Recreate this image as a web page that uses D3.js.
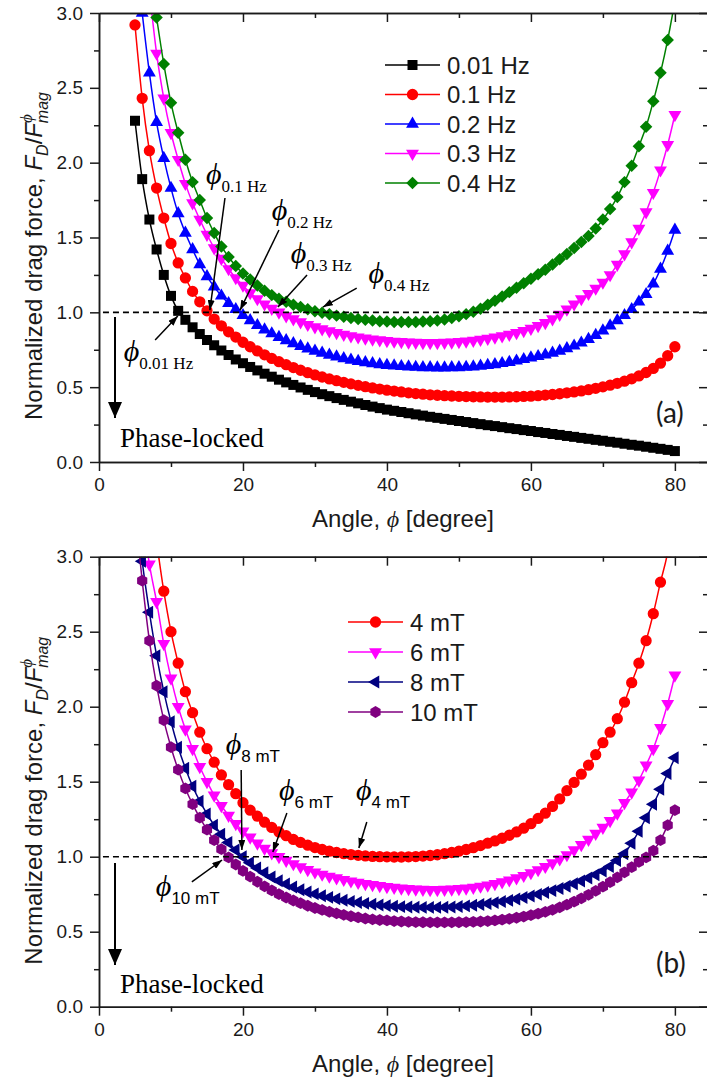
<!DOCTYPE html>
<html>
<head>
<meta charset="utf-8">
<script src="https://cdn.jsdelivr.net/npm/d3@7"></script>
<style>
  body { margin: 0; background: #fff; }
</style>
</head>
<body>
<div id="chart"></div>
<script>
// ---- panel (a): normalized drag force vs angle, different frequencies ----
const namesA = ["0.01 Hz", "0.1 Hz", "0.2 Hz", "0.3 Hz", "0.4 Hz"];
const startA = [5, 5, 6, 7, 8];   // first angle of each series [degree], then 1 degree steps
const hz001 = [2.28, 1.89, 1.62, 1.42, 1.25, 1.11, 1.01, 0.95, 0.90, 0.855, 0.815, 0.78, 0.745, 0.715, 0.685, 0.66,
  0.635, 0.612, 0.59, 0.57, 0.55, 0.532, 0.515, 0.498, 0.482, 0.467, 0.453, 0.44, 0.427, 0.415, 0.403, 0.392, 0.381,
  0.37, 0.36, 0.35, 0.342, 0.334, 0.326, 0.318, 0.31, 0.302, 0.295, 0.288, 0.281, 0.274, 0.267, 0.26, 0.253, 0.246,
  0.24, 0.233, 0.226, 0.22, 0.213, 0.207, 0.2, 0.194, 0.187, 0.181, 0.174, 0.168, 0.161, 0.155, 0.148, 0.142, 0.135,
  0.129, 0.122, 0.115, 0.109, 0.102, 0.095, 0.088, 0.081, 0.073];
const hz01 = [2.92, 2.43, 2.08, 1.83, 1.63, 1.46, 1.33, 1.23, 1.14, 1.07, 1.01, 0.955, 0.91, 0.87, 0.835, 0.80,
  0.77, 0.742, 0.716, 0.692, 0.67, 0.65, 0.631, 0.613, 0.597, 0.582, 0.568, 0.555, 0.543, 0.532, 0.522, 0.512, 0.503,
  0.495, 0.487, 0.48, 0.474, 0.468, 0.462, 0.457, 0.453, 0.449, 0.446, 0.443, 0.441, 0.439, 0.437, 0.436, 0.435,
  0.434, 0.434, 0.434, 0.435, 0.436, 0.438, 0.44, 0.443, 0.447, 0.451, 0.456, 0.462, 0.468, 0.475, 0.483, 0.492,
  0.502, 0.513, 0.526, 0.54, 0.556, 0.575, 0.598, 0.625, 0.66, 0.71, 0.77];
const hz02 = [3.0, 2.6, 2.27, 2.03, 1.83, 1.66, 1.53, 1.42, 1.32, 1.24, 1.17, 1.11, 1.06, 1.02, 0.98, 0.945, 0.913,
  0.884, 0.858, 0.834, 0.812, 0.792, 0.774, 0.757, 0.742, 0.728, 0.715, 0.703, 0.692, 0.682, 0.673, 0.665, 0.658,
  0.652, 0.647, 0.643, 0.639, 0.636, 0.634, 0.632, 0.631, 0.63, 0.63, 0.631, 0.632, 0.634, 0.637, 0.641, 0.646,
  0.652, 0.659, 0.667, 0.676, 0.686, 0.697, 0.706, 0.716, 0.728, 0.742, 0.758, 0.776, 0.796, 0.82, 0.847, 0.877,
  0.91, 0.945, 0.98, 1.02, 1.07, 1.12, 1.19, 1.29, 1.41, 1.55];
const hz03 = [3.15, 2.73, 2.43, 2.2, 2.02, 1.86, 1.73, 1.62, 1.52, 1.43, 1.36, 1.29, 1.23, 1.18, 1.13, 1.09, 1.055,
  1.025, 1.0, 0.975, 0.955, 0.935, 0.918, 0.902, 0.888, 0.875, 0.863, 0.852, 0.842, 0.834, 0.827, 0.82, 0.815, 0.81,
  0.806, 0.803, 0.80, 0.798, 0.797, 0.797, 0.797, 0.798, 0.80, 0.803, 0.807, 0.812, 0.818, 0.825, 0.833, 0.842,
  0.852, 0.864, 0.877, 0.892, 0.91, 0.93, 0.955, 0.985, 1.02, 1.055, 1.09, 1.125, 1.16, 1.2, 1.25, 1.32, 1.39, 1.47,
  1.56, 1.67, 1.80, 1.95, 2.12, 2.32];
const hz04 = [2.97, 2.66, 2.40, 2.20, 2.02, 1.87, 1.75, 1.63, 1.53, 1.44, 1.37, 1.31, 1.26, 1.22, 1.18, 1.145, 1.115,
  1.09, 1.07, 1.05, 1.035, 1.02, 1.008, 0.997, 0.987, 0.978, 0.97, 0.962, 0.956, 0.95, 0.945, 0.941, 0.938, 0.936,
  0.935, 0.935, 0.936, 0.938, 0.941, 0.945, 0.952, 0.962, 0.974, 0.988, 1.004, 1.024, 1.05, 1.078, 1.105, 1.135,
  1.165, 1.195, 1.225, 1.255, 1.285, 1.32, 1.355, 1.39, 1.43, 1.47, 1.51, 1.56, 1.62, 1.69, 1.77, 1.87, 1.98, 2.11,
  2.24, 2.41, 2.60, 2.82, 3.08];

// ---- panel (b): different field strengths ----
const namesB = ["4 mT", "6 mT", "8 mT", "10 mT"];
const startB = [8, 6, 5, 5];
const mt4 = [3.1, 2.77, 2.50, 2.29, 2.10, 1.96, 1.83, 1.72, 1.63, 1.545, 1.48, 1.42, 1.36, 1.31, 1.27, 1.23, 1.195,
  1.165, 1.14, 1.115, 1.095, 1.077, 1.061, 1.048, 1.037, 1.028, 1.02, 1.014, 1.009, 1.005, 1.002, 1.0, 0.999, 0.998,
  0.998, 0.999, 1.001, 1.004, 1.008, 1.013, 1.02, 1.028, 1.037, 1.048, 1.06, 1.074, 1.09, 1.105, 1.123, 1.143, 1.165,
  1.19, 1.22, 1.255, 1.29, 1.335, 1.385, 1.44, 1.495, 1.55, 1.61, 1.68, 1.76, 1.83, 1.92, 2.03, 2.16, 2.29, 2.44,
  2.62, 2.83, 3.03, 3.35];
const mt6 = [3.3, 2.95, 2.70, 2.42, 2.19, 2.0, 1.85, 1.72, 1.60, 1.50, 1.41, 1.34, 1.275, 1.22, 1.17, 1.13, 1.09,
  1.055, 1.025, 1.0, 0.975, 0.952, 0.932, 0.913, 0.897, 0.882, 0.869, 0.858, 0.847, 0.837, 0.828, 0.82, 0.813, 0.806,
  0.8, 0.795, 0.79, 0.786, 0.783, 0.781, 0.78, 0.78, 0.781, 0.783, 0.786, 0.79, 0.795, 0.802, 0.81, 0.82, 0.831,
  0.844, 0.858, 0.874, 0.892, 0.912, 0.934, 0.958, 0.984, 1.012, 1.045, 1.08, 1.115, 1.155, 1.195, 1.24, 1.29, 1.36,
  1.43, 1.51, 1.61, 1.72, 1.86, 2.02, 2.21];
const mt8 = [3.4, 2.97, 2.63, 2.34, 2.1, 1.9, 1.73, 1.59, 1.47, 1.37, 1.285, 1.21, 1.15, 1.095, 1.045, 1.0, 0.96,
  0.925, 0.893, 0.865, 0.84, 0.818, 0.798, 0.78, 0.765, 0.752, 0.74, 0.729, 0.719, 0.71, 0.702, 0.695, 0.689, 0.683,
  0.678, 0.674, 0.67, 0.667, 0.665, 0.663, 0.662, 0.662, 0.662, 0.663, 0.665, 0.668, 0.672, 0.676, 0.681, 0.687,
  0.694, 0.701, 0.709, 0.718, 0.728, 0.738, 0.749, 0.761, 0.774, 0.788, 0.803, 0.82, 0.838, 0.858, 0.88, 0.904,
  0.935, 0.975, 1.02, 1.09, 1.17, 1.26, 1.35, 1.45, 1.555, 1.66];
const mt10 = [3.3, 2.84, 2.44, 2.14, 1.91, 1.73, 1.58, 1.455, 1.35, 1.26, 1.18, 1.11, 1.05, 0.995, 0.948, 0.905,
  0.867, 0.833, 0.802, 0.775, 0.75, 0.728, 0.708, 0.69, 0.673, 0.658, 0.645, 0.633, 0.622, 0.612, 0.603, 0.595,
  0.588, 0.582, 0.578, 0.575, 0.571, 0.568, 0.566, 0.564, 0.563, 0.562, 0.562, 0.562, 0.562, 0.563, 0.564, 0.566,
  0.568, 0.571, 0.575, 0.58, 0.586, 0.593, 0.601, 0.61, 0.62, 0.632, 0.646, 0.662, 0.68, 0.70, 0.722, 0.746, 0.772,
  0.80, 0.83, 0.862, 0.896, 0.93, 0.965, 0.995, 1.04, 1.11, 1.21, 1.31];

const xTicks = [0, 20, 40, 60, 80];
const yTicks = [0, 0.5, 1.0, 1.5, 2.0, 2.5, 3.0];

// annotation anchors in data units: label position, arrow start, arrow tip
const notesA = [
  { sub: "0.01 Hz", at: [3.45, 0.675], from: [7.8, 0.815], to: [10.95, 0.975] },
  { sub: "0.1 Hz", at: [14.85, 1.857], from: [17.5, 1.764], to: [15.4, 1.015] },
  { sub: "0.2 Hz", at: [24.0, 1.617], from: [25.0, 1.55], to: [19.6, 1.015] },
  { sub: "0.3 Hz", at: [26.65, 1.329], from: [28.9, 1.249], to: [24.85, 1.035] },
  { sub: "0.4 Hz", at: [37.45, 1.196], from: [35.8, 1.162], to: [31.1, 1.035] }
];
const notesB = [
  { sub: "8 mT", at: [17.6, 1.685], from: [19.75, 1.578], to: [19.85, 1.045] },
  { sub: "6 mT", at: [25.0, 1.378], from: [26.1, 1.291], to: [24.15, 1.031] },
  { sub: "4 mT", at: [35.7, 1.378], from: [37.2, 1.231], to: [36.1, 1.058] },
  { sub: "10 mT", at: [7.9, 0.738], from: [12.9, 0.832], to: [17.1, 0.978] }
];

const sansFont = "'Liberation Sans', Arial, sans-serif";
const serifFont = "'Liberation Serif', 'Times New Roman', serif";
const ink = "#1a1a1a";

const svg = d3.select("#chart").append("svg")
  .attr("width", 707)
  .attr("height", 1088)
  .style("background", "#fff");

const defs = svg.append("defs");
defs.append("marker")
  .attr("id", "head-small")
  .attr("viewBox", "0 0 10 7")
  .attr("refX", 10).attr("refY", 3.5)
  .attr("markerWidth", 10).attr("markerHeight", 7)
  .attr("markerUnits", "userSpaceOnUse")
  .attr("orient", "auto")
  .append("path").attr("d", "M0,0L10,3.5L0,7Z").attr("fill", "#000");
defs.append("marker")
  .attr("id", "head-big")
  .attr("viewBox", "0 0 16 14")
  .attr("refX", 16).attr("refY", 7)
  .attr("markerWidth", 16).attr("markerHeight", 14)
  .attr("markerUnits", "userSpaceOnUse")
  .attr("orient", "auto")
  .append("path").attr("d", "M0,0L16,7L0,14Z").attr("fill", "#000");

// custom hexagon symbol for the 10 mT series
const symbolHexagon = {
  draw(ctx, size) {
    const r = Math.sqrt(size / (1.5 * Math.sqrt(3)));
    for (let i = 0; i < 6; i++) {
      const a = Math.PI / 3 * i + Math.PI / 6;
      if (i === 0) ctx.moveTo(r * Math.cos(a), r * Math.sin(a));
      else ctx.lineTo(r * Math.cos(a), r * Math.sin(a));
    }
    ctx.closePath();
  }
};

const seriesA = [
  { name: namesA[0], start: startA[0], values: hz001, color: "#000000", shape: d3.symbolSquare, size: 100, rot: 0 },
  { name: namesA[1], start: startA[1], values: hz01, color: "#ff0000", shape: d3.symbolCircle, size: 100, rot: 0 },
  { name: namesA[2], start: startA[2], values: hz02, color: "#0000ff", shape: d3.symbolTriangle, size: 72, rot: 0 },
  { name: namesA[3], start: startA[3], values: hz03, color: "#ff00ff", shape: d3.symbolTriangle, size: 72, rot: 180 },
  { name: namesA[4], start: startA[4], values: hz04, color: "#008000", shape: d3.symbolSquare, size: 78, rot: 45 }
];
const seriesB = [
  { name: namesB[0], start: startB[0], values: mt4, color: "#ff0000", shape: d3.symbolCircle, size: 100, rot: 0 },
  { name: namesB[1], start: startB[1], values: mt6, color: "#ff00ff", shape: d3.symbolTriangle, size: 72, rot: 180 },
  { name: namesB[2], start: startB[2], values: mt8, color: "#000080", shape: d3.symbolTriangle, size: 72, rot: -90 },
  { name: namesB[3], start: startB[3], values: mt10, color: "#800080", shape: symbolHexagon, size: 90, rot: 0 }
];

const x = d3.scaleLinear().domain([0, 84.6]).range([99, 708]);

function drawPanel(cfg) {
  const y = d3.scaleLinear().domain([0, 3]).range([cfg.bottom, cfg.top]);
  const g = svg.append("g");

  g.append("clipPath").attr("id", cfg.id + "-clip")
    .append("rect")
    .attr("x", x(0)).attr("y", cfg.top)
    .attr("width", x.range()[1] - x(0))
    .attr("height", cfg.bottom - cfg.top);

  // series: line + markers
  const line = d3.line()
    .x(d => x(d[0]))
    .y(d => y(d[1]))
    .curve(d3.curveMonotoneX);

  const plot = g.append("g").attr("clip-path", `url(#${cfg.id}-clip)`);
  cfg.series.forEach(s => {
    const pts = s.values.map((v, i) => [s.start + i, v]);
    plot.append("path")
      .datum(pts)
      .attr("fill", "none")
      .attr("stroke", s.color)
      .attr("stroke-width", 1.5)
      .attr("d", line);
    plot.append("g").selectAll("path")
      .data(pts)
      .join("path")
      .attr("transform", d => `translate(${x(d[0])},${y(d[1])}) rotate(${s.rot})`)
      .attr("d", d3.symbol(s.shape, s.size)())
      .attr("fill", s.color);
  });

  // dashed threshold at 1.0
  g.append("line")
    .attr("x1", x(0.55)).attr("x2", x.range()[1])
    .attr("y1", y(1)).attr("y2", y(1))
    .attr("stroke", "#000")
    .attr("stroke-width", 1.6)
    .attr("stroke-dasharray", "6,4");

  // axes
  const minorX = [10, 30, 50, 70];
  const minorY = [0.25, 0.75, 1.25, 1.75, 2.25, 2.75];

  const axes = [
    g.append("g").attr("transform", `translate(0,${cfg.bottom})`)
      .call(d3.axisBottom(x).tickValues(xTicks).tickSize(9).tickPadding(7).tickSizeOuter(0)),
    g.append("g").attr("transform", `translate(0,${cfg.bottom})`)
      .call(d3.axisBottom(x).tickValues(minorX).tickSize(5).tickFormat("").tickSizeOuter(0)),
    g.append("g").attr("transform", `translate(0,${cfg.top})`)
      .call(d3.axisBottom(x).tickValues(xTicks).tickSize(9).tickFormat("").tickSizeOuter(0)),
    g.append("g").attr("transform", `translate(0,${cfg.top})`)
      .call(d3.axisBottom(x).tickValues(minorX).tickSize(5).tickFormat("").tickSizeOuter(0)),
    g.append("g").attr("transform", `translate(${x(0)},0)`)
      .call(d3.axisLeft(y).tickValues(yTicks).tickSize(9).tickPadding(7).tickFormat(d3.format(".1f")).tickSizeOuter(0)),
    g.append("g").attr("transform", `translate(${x(0)},0)`)
      .call(d3.axisLeft(y).tickValues(minorY).tickSize(5).tickFormat("").tickSizeOuter(0)),
    g.append("g").attr("transform", `translate(${x.range()[1]},0)`)
      .call(d3.axisRight(y).tickValues(yTicks).tickSize(-9).tickFormat("").tickSizeOuter(0)),
    g.append("g").attr("transform", `translate(${x.range()[1]},0)`)
      .call(d3.axisRight(y).tickValues(minorY).tickSize(-5).tickFormat("").tickSizeOuter(0))
  ];
  axes.forEach(a => {
    a.select(".domain").attr("stroke", ink).attr("stroke-width", 1.5);
    a.selectAll(".tick line").attr("stroke", ink).attr("stroke-width", 1.5);
    a.selectAll(".tick text")
      .attr("fill", ink)
      .style("font-family", sansFont)
      .style("font-size", "19px");
  });

  // axis titles
  const xt = g.append("text")
    .attr("x", 403).attr("y", cfg.bottom + 65)
    .attr("text-anchor", "middle")
    .attr("fill", ink)
    .style("font-family", sansFont)
    .style("font-size", "24px");
  xt.append("tspan").text("Angle, ");
  xt.append("tspan").style("font-family", serifFont).style("font-style", "italic").text("\u03D5");
  xt.append("tspan").text(" [degree]");

  const yt = g.append("text")
    .attr("transform", `translate(42,${cfg.bottom - 42}) rotate(-90)`)
    .attr("text-anchor", "start")
    .attr("fill", ink)
    .style("font-family", sansFont)
    .style("font-size", "24px");
  yt.append("tspan").text("Normalized drag force, ");
  yt.append("tspan").style("font-style", "italic").text("F");
  yt.append("tspan").style("font-style", "italic").style("font-size", "16px").attr("dy", 6).text("D");
  yt.append("tspan").attr("dy", -6).text("/");
  yt.append("tspan").style("font-style", "italic").text("F");
  yt.append("tspan").style("font-style", "italic").style("font-family", serifFont).style("font-size", "17px").attr("dy", -10).text("\u03D5");
  yt.append("tspan").style("font-style", "italic").style("font-size", "16px").attr("dx", -9).attr("dy", 16).text("mag");

  // legend
  const lg = g.append("g");
  cfg.series.forEach((s, i) => {
    const ly = cfg.legend.y + i * cfg.legend.dy;
    lg.append("line")
      .attr("x1", cfg.legend.x).attr("x2", cfg.legend.x + 55)
      .attr("y1", ly).attr("y2", ly)
      .attr("stroke", s.color).attr("stroke-width", 1.5);
    lg.append("path")
      .attr("transform", `translate(${cfg.legend.x + 27.5},${ly}) rotate(${s.rot})`)
      .attr("d", d3.symbol(s.shape, s.size)())
      .attr("fill", s.color);
    lg.append("text")
      .attr("x", cfg.legend.x + 62).attr("y", ly + 8.5)
      .attr("fill", ink)
      .style("font-family", sansFont)
      .style("font-size", "24px")
      .text(s.name);
  });

  // phi annotations
  cfg.notes.forEach(n => {
    g.append("line")
      .attr("x1", x(n.from[0])).attr("y1", y(n.from[1]))
      .attr("x2", x(n.to[0])).attr("y2", y(n.to[1]))
      .attr("stroke", "#000").attr("stroke-width", 1.5)
      .attr("marker-end", "url(#head-small)");
    const t = g.append("text")
      .attr("x", x(n.at[0])).attr("y", y(n.at[1]))
      .attr("fill", "#000");
    t.append("tspan")
      .style("font-family", serifFont).style("font-style", "italic").style("font-size", "30px")
      .text("\u03D5");
    t.append("tspan")
      .attr("dy", 8)
      .style("font-family", cfg.subFont).style("font-size", "17px")
      .text(n.sub);
  });

  // phase-locked arrow + text
  g.append("line")
    .attr("x1", x(2.22)).attr("x2", x(2.22))
    .attr("y1", y(cfg.lock[0])).attr("y2", y(cfg.lock[1]))
    .attr("stroke", "#000").attr("stroke-width", 2)
    .attr("marker-end", "url(#head-big)");
  g.append("text")
    .attr("x", x(2.9)).attr("y", y(cfg.lock[2]))
    .attr("fill", "#000")
    .style("font-family", serifFont)
    .style("font-size", "27px")
    .text("Phase-locked");

  // panel letter
  g.append("text")
    .attr("x", 656).attr("y", cfg.letterY)
    .attr("fill", ink)
    .style("font-family", "Lato, 'Open Sans', sans-serif")
    .style("font-size", "28px")
    .text(cfg.letter);
}

drawPanel({
  id: "pa", top: 13, bottom: 462, series: seriesA,
  legend: { x: 385, y: 65, dy: 29.5 },
  notes: notesA, subFont: serifFont,
  lock: [0.969, 0.294, 0.1],
  letter: "(a)", letterY: 423
});
drawPanel({
  id: "pb", top: 556.7, bottom: 1006.7, series: seriesB,
  legend: { x: 348, y: 622, dy: 30 },
  notes: notesB, subFont: sansFont,
  lock: [0.958, 0.278, 0.091],
  letter: "(b)", letterY: 973
});
</script>
</body>
</html>
